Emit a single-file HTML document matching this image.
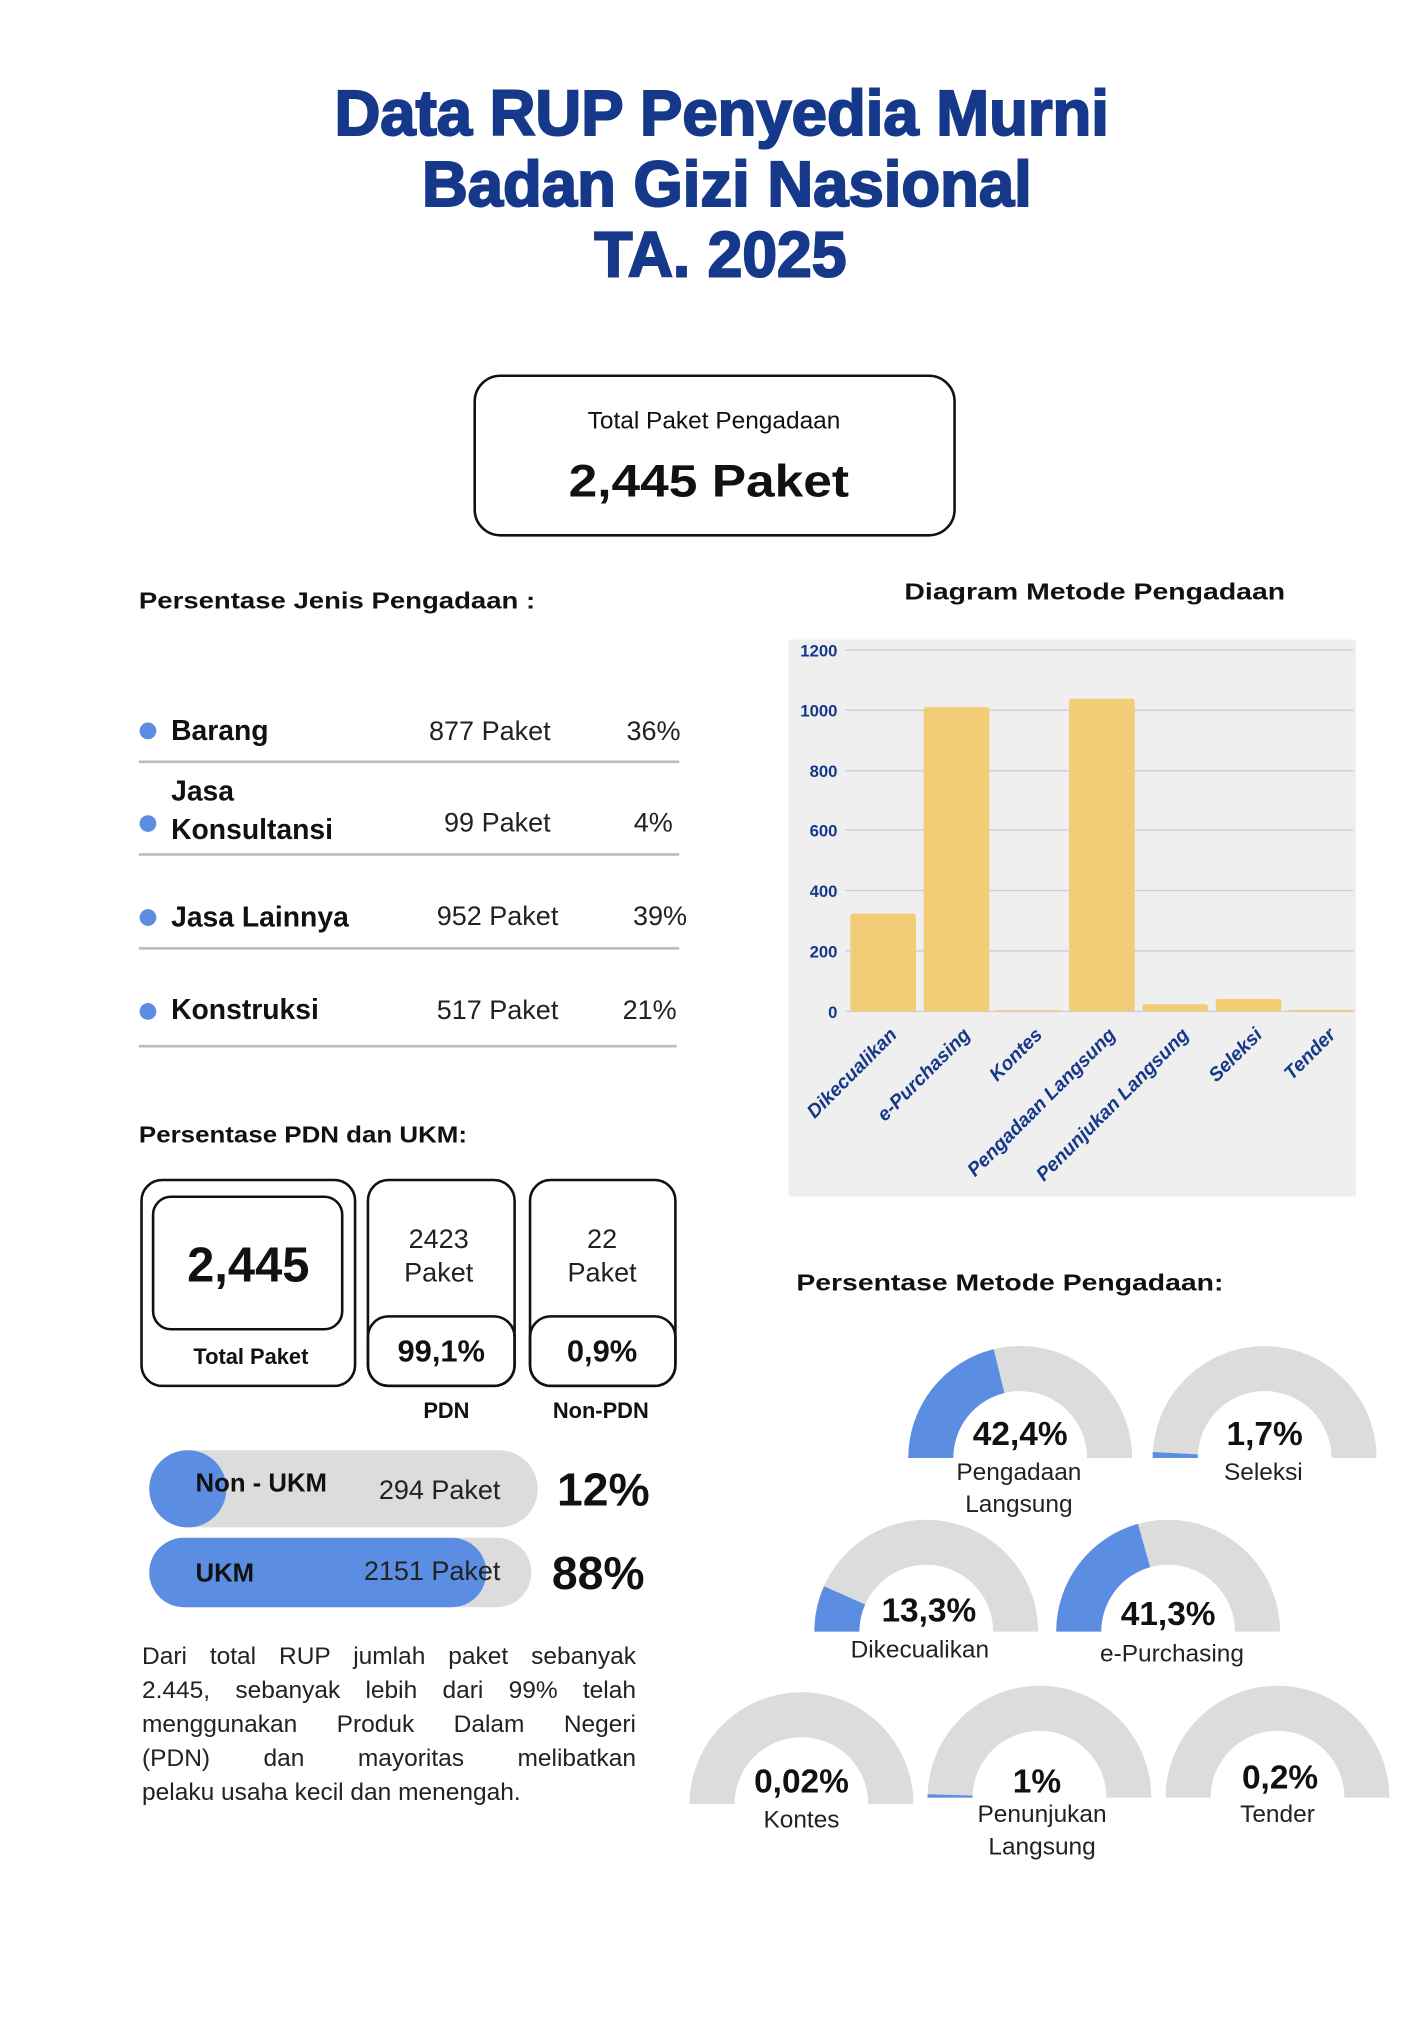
<!DOCTYPE html>
<html><head><meta charset="utf-8"><style>
html,body{margin:0;padding:0;background:#fff;}
svg{display:block;}
text{font-family:"Liberation Sans",sans-serif;}
.b{font-weight:bold;}
#para{position:absolute;left:142px;top:1640px;width:494px;font-family:"Liberation Sans",sans-serif;font-size:24.5px;line-height:34px;color:#222;margin:0;}
#para span{display:block;text-align:justify;text-align-last:justify;white-space:nowrap;}
#para span.l{text-align:left;text-align-last:left;}
</style></head><body>
<svg width="1428" height="2028" viewBox="0 0 1110 1576" preserveAspectRatio="none" xmlns="http://www.w3.org/2000/svg">
<rect width="1110" height="1576" fill="#fff"/>
<g fill="#15388a" stroke="#15388a" stroke-width="1.6" font-weight="bold" font-size="50" text-anchor="middle">
<text x="561" y="105" textLength="602" lengthAdjust="spacingAndGlyphs">Data RUP Penyedia Murni</text>
<text x="565" y="160" textLength="474" lengthAdjust="spacingAndGlyphs">Badan Gizi Nasional</text>
<text x="560" y="215" textLength="196" lengthAdjust="spacingAndGlyphs">TA. 2025</text>
</g>
<rect x="369" y="292" width="373" height="124" rx="20" fill="none" stroke="#111" stroke-width="2"/>
<text x="555" y="333" font-size="19" text-anchor="middle" fill="#111">Total Paket Pengadaan</text>
<text x="551" y="386" font-size="35" class="b" text-anchor="middle" fill="#111" textLength="218" lengthAdjust="spacingAndGlyphs">2,445 Paket</text>

<text x="108" y="473" font-size="18" class="b" fill="#111" textLength="308" lengthAdjust="spacingAndGlyphs">Persentase Jenis Pengadaan :</text>
<text x="851" y="466" font-size="18" class="b" fill="#111" text-anchor="middle" textLength="296" lengthAdjust="spacingAndGlyphs">Diagram Metode Pengadaan</text>

<g fill="#5b8de2"><circle cx="115" cy="568" r="6.5"/><circle cx="115" cy="640" r="6.5"/><circle cx="115" cy="713" r="6.5"/><circle cx="115" cy="786" r="6.5"/></g>
<g font-size="22" class="b" fill="#111">
<text x="133" y="575">Barang</text>
<text x="133" y="622">Jasa</text>
<text x="133" y="652">Konsultansi</text>
<text x="133" y="720">Jasa Lainnya</text>
<text x="133" y="792">Konstruksi</text>
</g>
<g font-size="21" fill="#222" text-anchor="end">
<text x="428" y="575">877 Paket</text><text x="529" y="575">36%</text>
<text x="428" y="646">99 Paket</text><text x="523" y="646">4%</text>
<text x="434" y="719">952 Paket</text><text x="534" y="719">39%</text>
<text x="434" y="792">517 Paket</text><text x="526" y="792">21%</text>
</g>
<g stroke="#bbb" stroke-width="2"><line x1="108" y1="592" x2="528" y2="592"/><line x1="108" y1="664" x2="528" y2="664"/><line x1="108" y1="737" x2="528" y2="737"/><line x1="108" y1="813" x2="526" y2="813"/></g>

<rect x="613" y="497" width="441" height="433" fill="#efefef"/>
<g stroke="#c8cde0" stroke-width="1"><line x1="657" y1="505" x2="1052" y2="505"/><line x1="657" y1="552" x2="1052" y2="552"/><line x1="657" y1="599" x2="1052" y2="599"/><line x1="657" y1="645" x2="1052" y2="645"/><line x1="657" y1="692" x2="1052" y2="692"/><line x1="657" y1="739" x2="1052" y2="739"/><line x1="657" y1="786" x2="1052" y2="786"/></g>
<g font-size="13" class="b" fill="#15388a" text-anchor="end">
<text x="651" y="510">1200</text><text x="651" y="557">1000</text><text x="651" y="604">800</text><text x="651" y="650">600</text><text x="651" y="697">400</text><text x="651" y="744">200</text><text x="651" y="791">0</text>
</g>
<g fill="#f2cd75">
<rect x="661" y="710" width="51" height="76" rx="2"/>
<rect x="718" y="549.5" width="51" height="236.5" rx="2"/>
<rect x="774" y="785" width="51" height="1"/>
<rect x="831" y="543" width="51" height="243" rx="2"/>
<rect x="888" y="780.4" width="51" height="5.6" rx="2"/>
<rect x="945" y="776.2" width="51" height="9.8" rx="2"/>
<rect x="1002" y="784.8" width="51" height="1.2"/>
</g>
<g font-size="15" class="b" font-style="italic" fill="#15388a" text-anchor="end">
<text transform="translate(698,805) rotate(-45)">Dikecualikan</text>
<text transform="translate(755,805) rotate(-45)">e-Purchasing</text>
<text transform="translate(811,805) rotate(-45)">Kontes</text>
<text transform="translate(868,805) rotate(-45)">Pengadaan Langsung</text>
<text transform="translate(925,805) rotate(-45)">Penunjukan Langsung</text>
<text transform="translate(982,805) rotate(-45)">Seleksi</text>
<text transform="translate(1039,805) rotate(-45)">Tender</text>
</g>

<text x="108" y="888" font-size="18" class="b" fill="#111" textLength="255" lengthAdjust="spacingAndGlyphs">Persentase PDN dan UKM:</text>
<g fill="none" stroke="#111" stroke-width="2">
<rect x="110" y="917" width="166" height="160" rx="16"/>
<rect x="119" y="930" width="147" height="103" rx="14"/>
<rect x="286" y="917" width="114" height="160" rx="16"/>
<rect x="286" y="1023" width="114" height="54" rx="16"/>
<rect x="412" y="917" width="113" height="160" rx="16"/>
<rect x="412" y="1023" width="113" height="54" rx="16"/>
</g>
<text x="193" y="996" font-size="38" class="b" fill="#111" text-anchor="middle">2,445</text>
<text x="195" y="1060" font-size="17" class="b" fill="#111" text-anchor="middle">Total Paket</text>
<g font-size="21" fill="#222" text-anchor="middle">
<text x="341" y="970">2423</text><text x="341" y="996">Paket</text>
<text x="468" y="970">22</text><text x="468" y="996">Paket</text>
</g>
<text x="343" y="1058" font-size="24" class="b" fill="#111" text-anchor="middle">99,1%</text>
<text x="468" y="1058" font-size="24" class="b" fill="#111" text-anchor="middle">0,9%</text>
<text x="347" y="1102" font-size="17" class="b" fill="#111" text-anchor="middle">PDN</text>
<text x="467" y="1102" font-size="17" class="b" fill="#111" text-anchor="middle">Non-PDN</text>

<rect x="116" y="1127" width="302" height="60" rx="30" fill="#dcdcdc"/>
<circle cx="146" cy="1157" r="30" fill="#5b8de2"/>
<text x="152" y="1159" font-size="20" class="b" fill="#111">Non - UKM</text>
<text x="389" y="1165" font-size="21" fill="#222" text-anchor="end">294 Paket</text>
<text x="433" y="1170" font-size="36" class="b" fill="#111">12%</text>
<rect x="116" y="1195" width="297" height="54" rx="27" fill="#dcdcdc"/>
<rect x="116" y="1195" width="262" height="54" rx="27" fill="#5b8de2"/>
<text x="152" y="1229" font-size="20" class="b" fill="#111">UKM</text>
<text x="389" y="1228" font-size="21" fill="#222" text-anchor="end">2151 Paket</text>
<text x="429" y="1235" font-size="36" class="b" fill="#111">88%</text>

<text x="619" y="1003" font-size="18" class="b" fill="#111" textLength="332" lengthAdjust="spacingAndGlyphs">Persentase Metode Pengadaan:</text>

<g fill="#dcdcdc">
<path d="M706,1133 A87,87 0 0 1 880,1133 L845,1133 A52,52 0 0 0 741,1133 Z"/>
<path d="M896,1133 A87,87 0 0 1 1070,1133 L1035,1133 A52,52 0 0 0 931,1133 Z"/>
<path d="M633,1268 A87,87 0 0 1 807,1268 L772,1268 A52,52 0 0 0 668,1268 Z"/>
<path d="M821,1268 A87,87 0 0 1 995,1268 L960,1268 A52,52 0 0 0 856,1268 Z"/>
<path d="M536,1402 A87,87 0 0 1 710,1402 L675,1402 A52,52 0 0 0 571,1402 Z"/>
<path d="M721,1397 A87,87 0 0 1 895,1397 L860,1397 A52,52 0 0 0 756,1397 Z"/>
<path d="M906,1397 A87,87 0 0 1 1080,1397 L1045,1397 A52,52 0 0 0 941,1397 Z"/>
</g>
<g fill="#5b8de2">
<path d="M706,1133 A87,87 0 0 1 772.4,1048.5 L780.7,1082.5 A52,52 0 0 0 741,1133 Z"/>
<path d="M896,1133 A87,87 0 0 1 896.1,1128.4 L931.1,1130.2 A52,52 0 0 0 931,1133 Z"/>
<path d="M633,1268 A87,87 0 0 1 640.5,1232.7 L672.5,1246.9 A52,52 0 0 0 668,1268 Z"/>
<path d="M821,1268 A87,87 0 0 1 884.5,1184.2 L894,1217.9 A52,52 0 0 0 856,1268 Z"/>
<path d="M721,1397 A87,87 0 0 1 721,1394.3 L756,1395.4 A52,52 0 0 0 756,1397 Z"/>
</g>
<g font-size="26" class="b" fill="#111" text-anchor="middle">
<text x="793" y="1123">42,4%</text>
<text x="983" y="1123">1,7%</text>
<text x="722" y="1260">13,3%</text>
<text x="908" y="1263">41,3%</text>
<text x="623" y="1393">0,02%</text>
<text x="806" y="1393">1%</text>
<text x="995" y="1390">0,2%</text>
</g>
<g font-size="19" fill="#222" text-anchor="middle">
<text x="792" y="1150">Pengadaan</text><text x="792" y="1175">Langsung</text>
<text x="982" y="1150">Seleksi</text>
<text x="715" y="1288">Dikecualikan</text>
<text x="911" y="1291">e-Purchasing</text>
<text x="623" y="1420">Kontes</text>
<text x="810" y="1416">Penunjukan</text><text x="810" y="1441">Langsung</text>
<text x="993" y="1416">Tender</text>
</g>
</svg>
<div id="para"><span>Dari total RUP jumlah paket sebanyak</span><span>2.445, sebanyak lebih dari 99% telah</span><span>menggunakan Produk Dalam Negeri</span><span>(PDN) dan mayoritas melibatkan</span><span class="l">pelaku usaha kecil dan menengah.</span></div>
</body></html>
